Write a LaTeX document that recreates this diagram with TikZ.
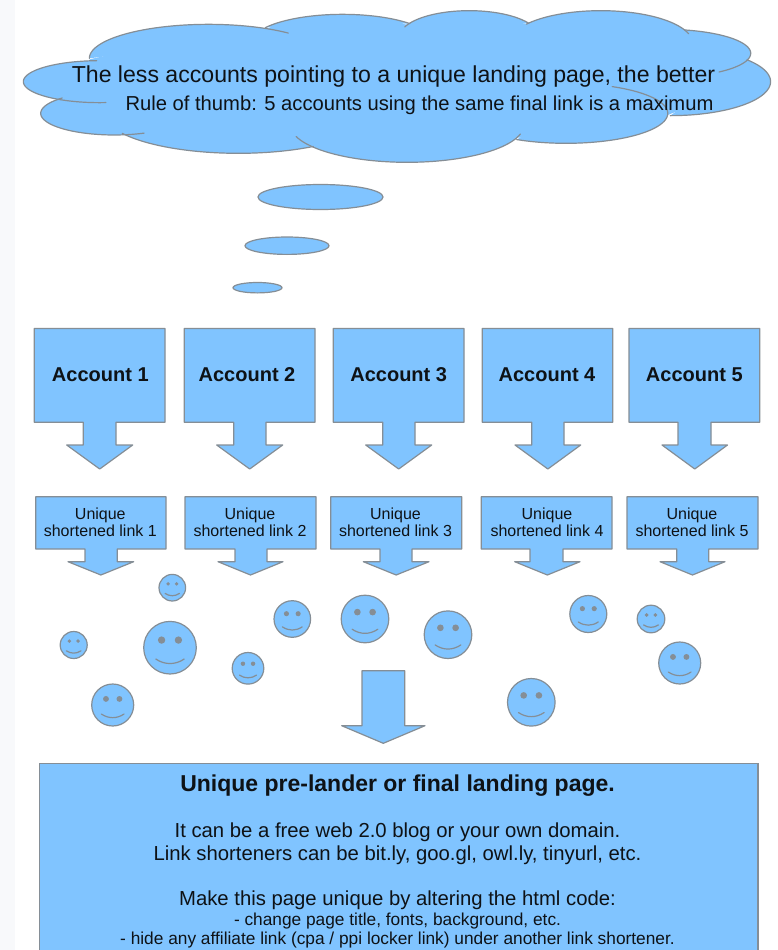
\documentclass[tikz,border=0pt]{standalone}
\usepackage{fontspec}
\setmainfont{Liberation Sans}
\definecolor{skyfill}{HTML}{80C4FF}
\definecolor{edgegray}{HTML}{858E96}
\definecolor{strip}{HTML}{F8F9FB}
\definecolor{ink}{HTML}{0E1216}
\tikzset{
  shapestyle/.style={draw=edgegray,fill=skyfill,line width=1.2pt,line join=round},
  lobeline/.style={draw=edgegray,line width=1.2pt,line cap=round},
  txt/.style={text=ink,inner sep=0pt,align=center},
}
\newcommand{\fs}[1]{\fontsize{#1}{#1}\selectfont}
\newcommand{\callout}[1]{\calloutinner#1\relax}
\def\calloutinner#1,#2,#3,#4,#5,#6,#7,#8,#9\relax{%
  \draw[shapestyle] (#1,#3)--(#2,#3)--(#2,#4)--(#6,#4)--(#6,#7)--(#9,#7)--({(#8+#9)/2},\ytip)--(#8,#7)--(#5,#7)--(#5,#4)--(#1,#4)--cycle;}
\newcommand{\smiley}[3]{%
  \begin{scope}[shift={(#1,#2)},x=#3pt,y=-#3pt]
    \draw[shapestyle] (0,0) circle[radius=#3pt];
    \fill[edgegray] (-.32,-.29) circle[radius={(0.14*#3)*1pt}];
    \fill[edgegray] (.32,-.29) circle[radius={(0.14*#3)*1pt}];
    \draw[lobeline] (-.54,.43) .. controls (-.2,.66) and (.2,.66) .. (.54,.43);
  \end{scope}}
\begin{document}
\begin{tikzpicture}[x=1pt,y=-1pt]
\useasboundingbox (0,0) rectangle (777,950);
\fill[white] (0,0) rectangle (777,950);
\fill[strip] (0,0) rectangle (15,950);

% cloud: lobes are elliptical arcs cx/cy/rx/ry/start/end
\begin{scope}[x=.4965pt,y=-.3333pt]
  \fill[skyfill] (180,178)--(420,100)--(540,85)--(560,72)--(690,50)--(822,74)--(945,40)--(1062,72)--(1210,40)--(1380,95)--(1500,170)--(1510,245)--(1345,345)--(1140,425)--(1040,412)--(820,480)--(631,436)--(480,455)--(250,404)--(230,400)--(125,295)--(200,300)--(60,240)--(190,184)--cycle;
  \foreach \cx/\cy/\rx/\ry/\sa/\ea in {
    420/175/240/102/48/180,
    690/130/185/87/43/147,
    945/110/140/78/31/158,
    1210/130/185/98/17/144,
    1340/160/172/72/-51/77,
    1350/245/202/102/-90/40,
    1140/340/205/90/-119/63,
    820/375/235/112/-162/-14,
    480/340/270/120/-150/-56,
    230/340/148/65/-225/-66,
    200/245/153/63/92/275}{
    \fill[skyfill] plot[domain=\sa:\ea,samples=50,smooth] ({\cx+\rx*cos(\x)},{\cy-\ry*sin(\x)}) -- cycle;
  }
  \foreach \cx/\cy/\rx/\ry/\sa/\ea in {
    420/175/240/102/48/180,
    690/130/185/87/43/147,
    945/110/140/78/31/158,
    1210/130/185/98/17/144,
    1340/160/172/72/-51/77,
    1350/245/202/102/-90/40,
    1140/340/205/90/-119/63,
    820/375/235/112/-162/-14,
    480/340/270/120/-150/-56,
    230/340/148/65/-225/-66,
    200/245/153/63/92/275}{
    \draw[lobeline] plot[domain=\sa:\ea,samples=50,smooth] ({\cx+\rx*cos(\x)},{\cy-\ry*sin(\x)});
  }
\end{scope}
\node[txt,anchor=base] (headline) at (393.5,82) {\fs{23.1}The less accounts pointing to a unique landing page, the better};
\node[txt,anchor=base] (rule) at (419.5,110) {\fs{20.2}Rule of thumb: 5 accounts using the same final link is a maximum};

% thought bubbles
\draw[shapestyle] (320.5,197) ellipse[x radius=62.5pt,y radius=12.5pt];
\draw[shapestyle] (287,245.7) ellipse[x radius=42pt,y radius=8.7pt];
\draw[shapestyle] (257.5,287.7) ellipse[x radius=24.5pt,y radius=5.2pt];

% accounts
\def\ytip{469}
\callout{34.3,165,328.5,422.3,83.3,116,445,66.7,132.7}
\callout{184.3,315,328.5,422.3,233.7,266,445,216.7,282.7}
\callout{333.3,464,328.5,422.3,382.7,415,445,365.7,431.7}
\callout{482.3,612.7,328.5,422.3,531.7,564,445,515,580.7}
\callout{629,759.7,328.5,422.3,678,711,445,662,727.5}
\foreach \i/\x in {1/100.3,2/247,3/398.7,4/547,5/694.3}{
  \node[txt,anchor=base] (acc\i) at (\x,381.5) {\fs{20}\bfseries Account \i};
}

% links
\def\ytip{575}
\callout{35.7,166,496.7,549,85,117.3,561.7,68,133.7}
\callout{185,316,496.7,549,235,267,561.7,218,283}
\callout{330.7,461.7,496.7,549,380,412,561.7,363.3,429}
\callout{481.3,612,496.7,549,530,563,561.7,514.7,580}
\callout{627,758,496.7,549,676.7,708.7,561.7,660,725}
\foreach \i/\x in {1/100.3,2/250,3/395.5,4/547,5/692}{
  \node[txt,anchor=base] (lnk\i a) at (\x,519) {\fs{16}Unique};
  \node[txt,anchor=base] (lnk\i b) at (\x,536.5) {\fs{16}shortened link \i};
}

% smileys
\smiley{172.3}{587.7}{13.3}
\smiley{73.7}{645}{13.5}
\smiley{170}{647.7}{26.3}
\smiley{112.7}{705}{21}
\smiley{248}{668.3}{15.8}
\smiley{292.3}{619}{18.3}
\smiley{365}{619}{23.8}
\smiley{448}{634.7}{23.8}
\smiley{588.3}{614}{18.5}
\smiley{651}{619}{13.8}
\smiley{679.7}{663}{21}
\smiley{531.3}{702.3}{23.8}

% large arrow
\draw[shapestyle] (362,670.7)--(404.7,670.7)--(404.7,725.7)--(425,725.7)--(383.3,743.3)--(341.7,725.7)--(362,725.7)--cycle;

% landing page
\fill[skyfill] (39.5,763.5) rectangle (758,950);
\draw[edgegray,line width=1.2pt] (39.5,950)--(39.5,763.5)--(758,763.5)--(758,950);
\node[txt,anchor=base] (title) at (397.5,791.5) {\fs{23}\bfseries Unique pre-lander or final landing page.};
\node[txt,anchor=base] (l1) at (397.5,837.5) {\fs{20.3}It can be a free web 2.0 blog or your own domain.};
\node[txt,anchor=base] (l2) at (397.5,860.5) {\fs{20.3}Link shorteners can be bit.ly, goo.gl, owl.ly, tinyurl, etc.};
\node[txt,anchor=base] (l3) at (397.5,905.5) {\fs{20.3}Make this page unique by altering the html code:};
\node[txt,anchor=base] (l4) at (397.5,925) {\fs{17.3}- change page title, fonts, background, etc.};
\node[txt,anchor=base] (l5) at (397.5,944) {\fs{17.3}- hide any affiliate link (cpa / ppi locker link) under another link shortener.};
\end{tikzpicture}
\end{document}
